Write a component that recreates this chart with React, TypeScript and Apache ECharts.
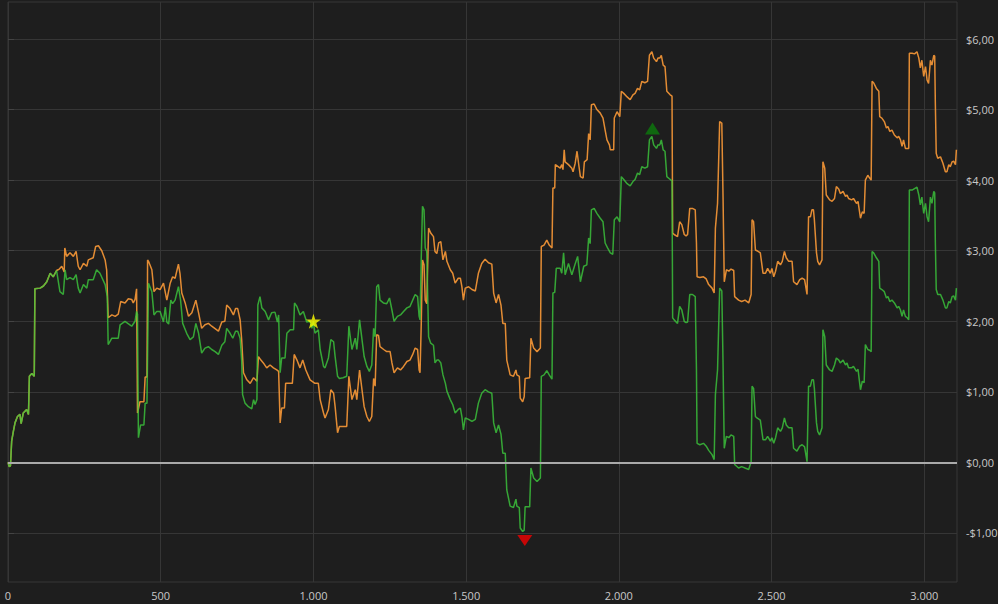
import React, { useEffect, useRef } from "react";
import * as echarts from "echarts";

// Trade number vs. cumulative P&L ($)
const orangeSeries: [number, number][] = [
  [0, 0], [4, -0.06], [8, -0.05], [12, 0.30], [18, 0.45], [23, 0.56], [31, 0.65], [39, 0.68], [43, 0.55], [50, 0.70],
  [61, 0.75], [67, 0.68], [70, 1.22], [78, 1.26], [86, 1.22], [88, 2.46], [105, 2.47], [116, 2.50], [127, 2.56], [138, 2.68],
  [148, 2.63], [159, 2.72], [168, 2.74], [176, 2.78], [184, 2.70], [186, 3.04], [192, 2.92], [203, 2.97], [214, 2.92], [223, 2.99],
  [230, 2.78], [236, 2.73], [247, 2.82], [258, 2.78], [263, 2.87], [279, 2.90], [287, 3.06], [296, 3.07], [307, 3.00], [318, 2.87],
  [323, 2.73], [328, 2.05], [340, 2.09], [351, 2.07], [361, 2.10], [369, 2.28], [383, 2.26], [394, 2.32], [405, 2.31], [410, 2.26],
  [416, 2.31], [421, 2.46], [424, 0.70], [432, 0.86], [445, 0.86], [449, 1.21], [455, 1.21], [457, 2.87], [460, 2.85], [471, 2.73],
  [478, 2.42], [487, 2.47], [498, 2.45], [509, 2.54], [520, 2.30], [531, 2.54], [539, 2.63], [547, 2.61], [558, 2.81], [563, 2.68],
  [569, 2.40], [580, 2.26], [591, 2.07], [602, 2.12], [615, 2.30], [624, 2.12], [634, 1.90], [645, 1.95], [656, 1.97], [667, 1.93],
  [689, 1.86], [700, 1.99], [710, 2.00], [716, 2.23], [727, 2.18], [738, 2.09], [745, 2.18], [752, 2.18], [760, 2.02], [765, 1.74],
  [771, 1.27], [782, 1.17], [793, 1.12], [804, 1.20], [815, 1.15], [820, 1.50], [828, 1.45], [836, 1.41], [847, 1.34], [858, 1.38],
  [869, 1.34], [880, 1.31], [886, 1.29], [891, 0.56], [896, 0.77], [905, 0.77], [909, 1.12], [931, 1.12], [937, 1.53], [946, 1.45],
  [956, 1.34], [965, 1.45], [975, 1.31], [989, 1.17], [1005, 1.12], [1016, 1.12], [1022, 0.89], [1033, 0.70], [1038, 0.63], [1049, 0.75],
  [1057, 1.03], [1066, 0.98], [1071, 0.79], [1079, 0.42], [1085, 0.51], [1109, 0.51], [1116, 1.22], [1126, 0.89], [1137, 1.03], [1142, 0.89],
  [1151, 1.31], [1159, 1.03], [1166, 0.79], [1175, 0.65], [1183, 0.58], [1191, 0.65], [1197, 1.19], [1202, 1.08], [1207, 1.81], [1213, 1.80],
  [1218, 1.64], [1230, 1.60], [1240, 1.57], [1251, 1.57], [1257, 1.41], [1264, 1.27], [1275, 1.34], [1285, 1.31], [1295, 1.36], [1306, 1.43],
  [1316, 1.45], [1325, 1.53], [1333, 1.62], [1341, 1.60], [1346, 1.31], [1349, 1.27], [1353, 1.97], [1357, 2.87], [1362, 2.80], [1366, 2.30],
  [1371, 2.25], [1377, 3.32], [1384, 3.25], [1393, 3.20], [1398, 2.99], [1404, 2.96], [1410, 3.11], [1417, 3.13], [1424, 2.87], [1432, 2.99],
  [1437, 2.85], [1448, 2.73], [1456, 2.68], [1464, 2.54], [1474, 2.61], [1481, 2.61], [1486, 2.49], [1491, 2.30], [1497, 2.47], [1508, 2.49],
  [1519, 2.45], [1530, 2.43], [1540, 2.68], [1551, 2.82], [1562, 2.88], [1573, 2.83], [1584, 2.81], [1590, 2.40], [1598, 2.26], [1606, 2.38],
  [1614, 2.23], [1620, 1.97], [1628, 1.97], [1633, 1.45], [1644, 1.24], [1655, 1.22], [1663, 1.31], [1666, 1.24], [1674, 1.22], [1677, 0.91],
  [1685, 0.86], [1690, 0.93], [1693, 1.19], [1708, 1.20], [1712, 1.76], [1721, 1.62], [1732, 1.57], [1743, 1.62], [1746, 3.06], [1755, 3.08],
  [1764, 3.15], [1772, 3.08], [1781, 3.04], [1784, 3.89], [1790, 3.89], [1792, 4.22], [1808, 4.17], [1813, 4.22], [1817, 4.15], [1821, 4.43],
  [1824, 4.26], [1835, 4.22], [1846, 4.17], [1850, 4.12], [1857, 4.24], [1863, 4.41], [1868, 4.24], [1874, 4.05], [1883, 4.03], [1887, 4.26],
  [1896, 4.29], [1901, 4.66], [1906, 4.57], [1910, 5.07], [1919, 5.08], [1928, 5.00], [1939, 4.95], [1948, 4.88], [1955, 4.71], [1961, 4.57],
  [1969, 4.50], [1972, 4.43], [1983, 4.43], [1985, 4.88], [1994, 4.97], [2003, 4.90], [2008, 5.26], [2016, 5.23], [2027, 5.18], [2037, 5.14],
  [2046, 5.21], [2053, 5.23], [2061, 5.30], [2068, 5.28], [2075, 5.40], [2085, 5.38], [2094, 5.40], [2100, 5.77], [2108, 5.82], [2114, 5.73],
  [2123, 5.68], [2128, 5.73], [2134, 5.73], [2139, 5.77], [2145, 5.63], [2151, 5.61], [2157, 5.26], [2168, 5.21], [2174, 5.19], [2176, 3.25],
  [2181, 3.23], [2192, 3.20], [2199, 3.41], [2206, 3.37], [2214, 3.23], [2220, 3.21], [2225, 3.23], [2232, 3.60], [2241, 3.60], [2250, 3.58],
  [2254, 3.11], [2256, 2.63], [2265, 2.62], [2277, 2.63], [2286, 2.60], [2294, 2.52], [2305, 2.47], [2312, 2.40], [2316, 3.32], [2323, 3.67],
  [2330, 4.83], [2337, 4.81], [2341, 3.77], [2345, 2.56], [2352, 2.73], [2360, 2.71], [2367, 2.74], [2376, 2.72], [2379, 2.35], [2392, 2.30],
  [2402, 2.28], [2413, 2.30], [2425, 2.26], [2433, 2.38], [2436, 3.44], [2441, 3.41], [2447, 3.01], [2452, 3.00], [2463, 2.97], [2472, 2.68],
  [2480, 2.68], [2487, 2.75], [2496, 2.68], [2501, 2.75], [2507, 2.63], [2513, 2.71], [2520, 2.85], [2529, 2.80], [2535, 2.85], [2542, 2.99],
  [2548, 2.90], [2556, 2.85], [2567, 2.85], [2572, 2.56], [2583, 2.52], [2592, 2.59], [2600, 2.61], [2608, 2.59], [2616, 2.38], [2621, 3.48],
  [2627, 3.48], [2632, 3.58], [2637, 3.58], [2640, 3.44], [2647, 2.97], [2651, 2.85], [2657, 2.80], [2665, 2.87], [2668, 4.26], [2674, 4.17],
  [2679, 3.79], [2690, 3.72], [2698, 3.70], [2706, 3.74], [2712, 3.91], [2720, 3.87], [2725, 3.81], [2734, 3.84], [2742, 3.77], [2747, 3.79],
  [2752, 3.74], [2762, 3.72], [2768, 3.74], [2778, 3.67], [2783, 3.70], [2787, 3.58], [2791, 3.46], [2797, 3.55], [2803, 3.53], [2807, 4.00],
  [2815, 4.07], [2821, 4.03], [2826, 4.00], [2829, 5.40], [2834, 5.38], [2843, 5.30], [2851, 5.26], [2854, 4.90], [2861, 4.88], [2869, 4.83],
  [2876, 4.74], [2881, 4.76], [2887, 4.69], [2894, 4.71], [2902, 4.64], [2911, 4.60], [2916, 4.62], [2922, 4.57], [2927, 4.48], [2932, 4.57],
  [2938, 4.45], [2944, 4.45], [2949, 4.45], [2951, 5.80], [2960, 5.80], [2968, 5.79], [2976, 5.82], [2982, 5.73], [2987, 5.59], [2992, 5.70],
  [2998, 5.47], [3004, 5.61], [3009, 5.42], [3014, 5.37], [3020, 5.70], [3025, 5.63], [3031, 5.77], [3034, 5.76], [3036, 5.11], [3039, 4.38],
  [3044, 4.31], [3053, 4.33], [3061, 4.24], [3069, 4.12], [3074, 4.12], [3080, 4.22], [3085, 4.19], [3091, 4.26], [3096, 4.27], [3102, 4.22],
  [3105, 4.43],
];

const greenSeries: [number, number][] = [
  [0, 0], [4, -0.06], [8, -0.05], [12, 0.30], [18, 0.45], [23, 0.56], [31, 0.65], [39, 0.68], [43, 0.55], [50, 0.70],
  [61, 0.75], [67, 0.68], [70, 1.22], [78, 1.26], [86, 1.22], [88, 2.46], [105, 2.47], [116, 2.50], [127, 2.56], [138, 2.68],
  [148, 2.63], [159, 2.72], [170, 2.42], [181, 2.38], [187, 2.73], [192, 2.59], [203, 2.62], [214, 2.59], [223, 2.66], [230, 2.47],
  [236, 2.40], [247, 2.52], [258, 2.47], [263, 2.59], [279, 2.59], [290, 2.73], [301, 2.68], [318, 2.52], [325, 2.35], [328, 1.67],
  [340, 1.76], [351, 1.76], [361, 1.76], [367, 1.95], [383, 2.00], [399, 1.95], [405, 1.93], [416, 2.00], [421, 2.14], [424, 2.10],
  [427, 0.35], [434, 0.53], [445, 0.53], [449, 0.84], [455, 0.84], [460, 2.54], [471, 2.42], [478, 2.09], [487, 2.14], [498, 2.14],
  [509, 1.99], [515, 2.20], [520, 1.99], [526, 1.96], [533, 2.30], [539, 2.25], [547, 2.30], [558, 2.49], [565, 2.30], [572, 1.97],
  [585, 1.83], [596, 1.74], [607, 1.78], [615, 1.97], [624, 1.83], [634, 1.55], [645, 1.62], [656, 1.64], [667, 1.60], [678, 1.57],
  [689, 1.53], [700, 1.66], [710, 1.71], [716, 1.90], [727, 1.83], [736, 1.76], [745, 1.86], [752, 1.86], [760, 1.76], [765, 1.45],
  [768, 0.96], [776, 0.84], [787, 0.79], [798, 0.76], [804, 0.89], [809, 0.82], [815, 0.89], [818, 2.23], [825, 2.35], [831, 2.19],
  [842, 2.14], [853, 2.02], [863, 2.12], [874, 2.13], [882, 1.99], [886, 2.09], [891, 1.27], [896, 1.48], [907, 1.48], [913, 1.83],
  [924, 1.88], [935, 1.88], [938, 2.26], [946, 2.21], [956, 2.09], [967, 2.14], [978, 1.99], [989, 2.00], [995, 1.90], [1000, 2.00],
  [1005, 1.83], [1016, 1.88], [1022, 1.60], [1033, 1.36], [1038, 1.34], [1049, 1.48], [1057, 1.74], [1066, 1.71], [1071, 1.50], [1079, 1.22],
  [1085, 1.19], [1097, 1.20], [1109, 1.22], [1116, 1.93], [1126, 1.60], [1137, 1.76], [1142, 1.60], [1151, 2.02], [1159, 1.74], [1166, 1.50],
  [1175, 1.36], [1183, 1.29], [1191, 1.38], [1197, 1.90], [1202, 1.78], [1207, 2.49], [1213, 2.52], [1218, 2.30], [1229, 2.26], [1240, 2.25],
  [1249, 2.33], [1257, 2.16], [1264, 2.00], [1275, 2.07], [1285, 2.09], [1295, 2.14], [1306, 2.19], [1316, 2.21], [1325, 2.30], [1333, 2.38],
  [1341, 2.35], [1346, 2.07], [1349, 2.02], [1353, 2.90], [1357, 3.63], [1362, 3.58], [1366, 3.04], [1371, 2.99], [1377, 1.78], [1384, 1.69],
  [1393, 1.66], [1398, 1.41], [1404, 1.45], [1410, 1.45], [1417, 1.41], [1424, 1.24], [1432, 1.12], [1437, 1.01], [1448, 0.89], [1456, 0.82],
  [1464, 0.70], [1474, 0.75], [1481, 0.77], [1486, 0.65], [1491, 0.46], [1497, 0.63], [1508, 0.61], [1519, 0.58], [1530, 0.61], [1540, 0.84],
  [1551, 0.98], [1562, 1.03], [1573, 1.00], [1584, 0.98], [1590, 0.56], [1598, 0.42], [1606, 0.53], [1614, 0.40], [1620, 0.13], [1628, 0.13],
  [1633, -0.39], [1644, -0.62], [1655, -0.64], [1663, -0.52], [1666, -0.62], [1674, -0.64], [1677, -0.93], [1685, -0.98], [1690, -0.96], [1693, -0.63],
  [1708, -0.63], [1712, -0.08], [1721, -0.22], [1732, -0.27], [1743, -0.22], [1746, 1.22], [1755, 1.24], [1764, 1.30], [1772, 1.24], [1781, 1.18],
  [1784, 2.40], [1790, 2.41], [1795, 2.75], [1808, 2.75], [1813, 2.68], [1819, 2.97], [1824, 2.66], [1835, 2.82], [1846, 2.66], [1856, 2.80],
  [1865, 2.92], [1874, 2.56], [1885, 2.78], [1895, 2.80], [1901, 3.18], [1906, 3.10], [1910, 3.58], [1919, 3.60], [1928, 3.53], [1939, 3.46],
  [1948, 3.41], [1955, 3.11], [1963, 3.04], [1972, 2.97], [1980, 2.95], [1985, 3.44], [1994, 3.48], [2003, 3.41], [2008, 4.05], [2016, 4.01],
  [2027, 3.95], [2037, 3.92], [2046, 3.98], [2053, 4.01], [2061, 4.10], [2068, 4.08], [2075, 4.19], [2085, 4.17], [2094, 4.19], [2100, 4.57],
  [2108, 4.62], [2114, 4.50], [2123, 4.45], [2128, 4.50], [2134, 4.50], [2139, 4.57], [2145, 4.43], [2151, 4.41], [2157, 4.05], [2168, 4.01],
  [2174, 3.99], [2176, 2.05], [2181, 2.02], [2192, 1.97], [2199, 2.21], [2206, 2.16], [2214, 2.00], [2220, 1.98], [2225, 1.99], [2232, 2.38],
  [2241, 2.38], [2250, 2.35], [2254, 1.31], [2256, 0.27], [2265, 0.25], [2277, 0.27], [2286, 0.23], [2294, 0.17], [2305, 0.11], [2312, 0.04],
  [2316, 0.96], [2323, 1.31], [2330, 2.47], [2337, 2.43], [2341, 1.41], [2345, 0.20], [2352, 0.37], [2360, 0.35], [2367, 0.39], [2376, 0.37],
  [2379, -0.03], [2392, -0.08], [2402, -0.06], [2413, -0.08], [2425, -0.10], [2433, 0.01], [2436, 1.08], [2441, 1.05], [2447, 0.65], [2452, 0.63],
  [2463, 0.60], [2472, 0.32], [2480, 0.32], [2487, 0.37], [2496, 0.30], [2501, 0.35], [2507, 0.27], [2513, 0.35], [2520, 0.49], [2529, 0.44],
  [2535, 0.49], [2542, 0.63], [2548, 0.53], [2556, 0.49], [2567, 0.49], [2572, 0.20], [2583, 0.16], [2592, 0.23], [2600, 0.25], [2608, 0.22],
  [2616, 0.01], [2621, 1.08], [2627, 1.08], [2632, 1.17], [2637, 1.17], [2640, 1.05], [2647, 0.56], [2651, 0.44], [2657, 0.39], [2665, 0.49],
  [2668, 1.88], [2674, 1.78], [2679, 1.38], [2690, 1.31], [2698, 1.29], [2706, 1.38], [2712, 1.48], [2720, 1.45], [2725, 1.41], [2734, 1.45],
  [2742, 1.38], [2747, 1.41], [2752, 1.34], [2762, 1.34], [2768, 1.36], [2778, 1.29], [2783, 1.32], [2787, 1.17], [2791, 1.03], [2797, 1.15],
  [2803, 1.13], [2807, 1.67], [2815, 1.60], [2821, 1.59], [2826, 1.57], [2829, 2.99], [2834, 2.97], [2843, 2.90], [2851, 2.85], [2854, 2.47],
  [2861, 2.45], [2869, 2.42], [2876, 2.33], [2881, 2.35], [2887, 2.28], [2894, 2.30], [2902, 2.26], [2911, 2.19], [2916, 2.21], [2922, 2.16],
  [2927, 2.07], [2932, 2.16], [2938, 2.07], [2944, 2.05], [2949, 2.02], [2951, 3.86], [2960, 3.86], [2968, 3.88], [2976, 3.90], [2982, 3.79],
  [2987, 3.65], [2992, 3.76], [2998, 3.53], [3004, 3.67], [3009, 3.48], [3014, 3.41], [3020, 3.76], [3025, 3.67], [3031, 3.84], [3034, 3.82],
  [3036, 3.15], [3039, 2.45], [3044, 2.38], [3053, 2.38], [3061, 2.30], [3069, 2.19], [3074, 2.19], [3080, 2.28], [3085, 2.26], [3091, 2.35],
  [3096, 2.36], [3102, 2.30], [3105, 2.47],
];

const starPoint: [number, number] = [1000, 2.0];
const lowPoint: [number, number] = [1692, -0.98];
const highPoint: [number, number] = [2110, 4.62];

const xTicks = [0, 500, 1000, 1500, 2000, 2500, 3000];
const yTicks = [-1, 0, 1, 2, 3, 4, 5, 6];
const xMax = 3107;
const yMin = -1.695;
const yMax = 6.525;

const STAR = "path://M50,0 L61.2,34.5 L97.6,34.5 L68.2,55.9 L79.4,90.5 L50,69.1 L20.6,90.5 L31.8,55.9 L2.4,34.5 L38.8,34.5 Z";

const fmtX = (v: number) => String(Math.round(v)).replace(/\B(?=(\d{3})+(?!\d))/g, ".");
const fmtY = (v: number) => (v < 0 ? "-" : "") + "$" + Math.abs(v).toFixed(2).replace(".", ",");

export default function App() {
  const ref = useRef<HTMLDivElement>(null);
  useEffect(() => {
    document.body.style.margin = "0";
    document.body.style.background = "#1e1e1e";
    const chart = echarts.init(ref.current!, null, { renderer: "svg" });
    const gridColor = "#363636";
    const labelStyle = { color: "#c8c8c8", fontFamily: "Open Sans", fontSize: 11 };
    chart.setOption({
      animation: false,
      backgroundColor: "#1e1e1e",
      grid: {
        left: 8, right: 41, top: 2, bottom: 22,
        containLabel: false, outerBoundsMode: "none",
        show: true, borderColor: gridColor, borderWidth: 1, backgroundColor: "transparent",
      },
      xAxis: {
        type: "value", min: 0, max: xMax,
        axisLine: { show: false },
        axisTick: { show: true, length: 4, customValues: xTicks, lineStyle: { color: "#444" } },
        axisLabel: { customValues: xTicks, formatter: fmtX, margin: 8, ...labelStyle },
        splitLine: { show: true, lineStyle: { color: gridColor, width: 1 } },
      },
      yAxis: {
        type: "value", position: "right", min: yMin, max: yMax,
        axisLine: { show: false },
        axisTick: { show: true, length: 6, customValues: yTicks, lineStyle: { color: "#444" } },
        axisLabel: { customValues: yTicks, formatter: fmtY, margin: 9, ...labelStyle },
        splitLine: { show: true, lineStyle: { color: gridColor, width: 1 } },
      },
      series: [
        {
          type: "line", data: orangeSeries, showSymbol: false, symbol: "none", z: 2,
          lineStyle: { color: "#ee9236", width: 1.5, opacity: 0.95 },
          markLine: {
            silent: true, symbol: "none", label: { show: false },
            lineStyle: { color: "#aaaaaa", width: 2, type: "solid" },
            data: [{ yAxis: 0 }],
          },
        },
        {
          type: "line", data: greenSeries, showSymbol: false, symbol: "none", z: 3,
          lineStyle: { color: "#3cc83c", width: 1.5, opacity: 0.8 },
        },
        {
          type: "scatter", z: 5, silent: true,
          data: [
            { value: starPoint, symbol: STAR, symbolSize: 15, itemStyle: { color: "#ffff00" } },
            { value: lowPoint, symbol: "triangle", symbolRotate: 180, symbolSize: [15, 11], symbolOffset: [0, 9], itemStyle: { color: "#f00000" } },
            { value: highPoint, symbol: "triangle", symbolSize: [15, 12], symbolOffset: [0, -8], itemStyle: { color: "#0b7a0b" } },
          ],
        },
      ],
    });
    return () => chart.dispose();
  }, []);
  return <div ref={ref} style={{ position: "absolute", left: 0, top: 0, width: 998, height: 604 }} />;
}
